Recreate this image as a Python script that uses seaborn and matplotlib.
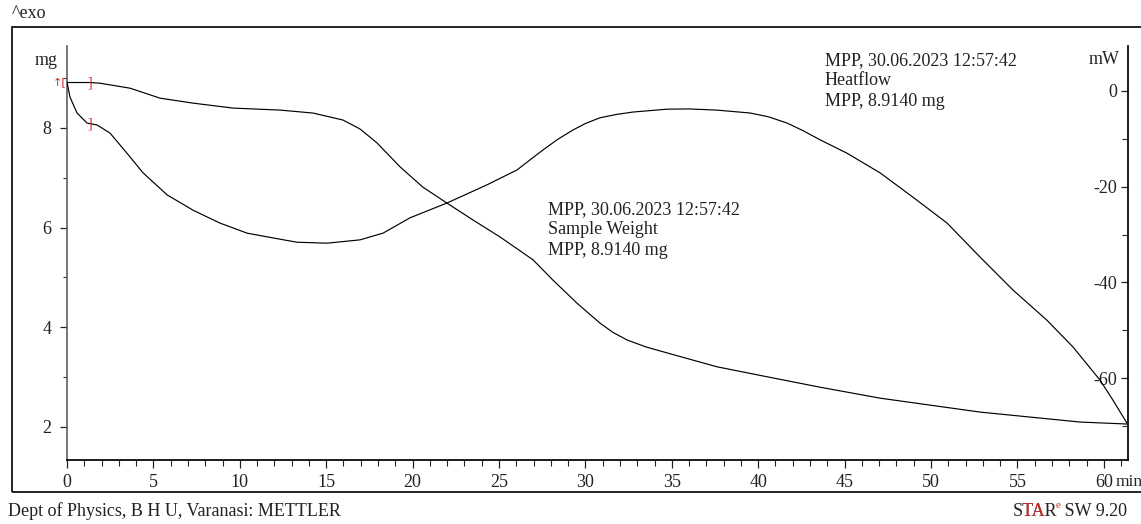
import matplotlib
matplotlib.use("Agg")
import matplotlib.pyplot as plt
import numpy as np
import pandas as pd
import seaborn as sns
from matplotlib.patches import Rectangle
from matplotlib.ticker import MultipleLocator
from matplotlib.transforms import Bbox

# sample weight (TGA)
weight_time = [0.0, 1.33, 1.91, 3.65, 5.38, 7.29, 9.61, 12.33, 14.24, 15.97, 16.96,
               17.94, 19.27, 20.6, 21.99, 23.5, 25.06, 26.97, 28.13, 29.51, 30.84,
               31.6, 32.41, 33.5, 34.72, 37.62, 40.51, 43.58, 47.05, 52.84, 58.62, 61.34]
weight_mg = [8.914, 8.914, 8.90, 8.80, 8.60, 8.50, 8.40, 8.36, 8.30, 8.16, 7.98,
             7.70, 7.22, 6.81, 6.49, 6.15, 5.81, 5.35, 4.94, 4.48, 4.08,
             3.89, 3.74, 3.60, 3.48, 3.20, 3.00, 2.79, 2.57, 2.29, 2.09, 2.05]

# heat flow (DSC)
heat_time = [0.0, 0.17, 0.58, 1.16, 1.74, 2.49, 3.47, 4.40, 5.79, 7.29, 8.85, 10.42,
             11.92, 13.31, 15.05, 16.96, 18.29, 19.85, 21.99, 24.31, 26.04, 27.55,
             28.4, 29.28, 30.0, 30.84, 31.8, 32.75, 34.72, 36.0, 37.62, 39.53, 40.6,
             41.67, 42.6, 43.58, 45.14, 47.05, 48.96, 50.93, 52.84, 54.75, 56.71,
             58.22, 59.78, 60.53, 61.34]
heat_mw = [1.9, -1.25, -4.6, -6.7, -7.1, -8.8, -13.0, -17.1, -21.7, -24.9, -27.6, -29.7,
           -30.7, -31.6, -31.8, -31.1, -29.7, -26.5, -23.4, -19.6, -16.5, -12.3,
           -10.1, -8.15, -6.8, -5.6, -4.9, -4.4, -3.8, -3.75, -4.0, -4.6, -5.4,
           -6.7, -8.3, -10.2, -13.0, -17.1, -22.2, -27.6, -34.7, -41.6, -47.9,
           -53.5, -60.4, -64.6, -69.4]

x_ticks = list(range(0, 65, 5))
mg_ticks = [2, 4, 6, 8]
mw_ticks = [0, -20, -40, -60]
limit_time = 1.33

SERIF = ["Liberation Serif", "DejaVu Serif"]
INK = "#222222"
RED = "#d62728"
FS = 13


def main():
    sns.set_theme(style="ticks")
    plt.rcParams["font.family"] = SERIF
    plt.rcParams["font.size"] = FS
    plt.rcParams["axes.unicode_minus"] = False

    weight = pd.DataFrame({"t": weight_time, "mg": weight_mg})
    heat = pd.DataFrame({"t": heat_time, "mw": heat_mw})

    fig = plt.figure(figsize=(11.41, 5.24), dpi=100)
    fig.patches.append(Rectangle((12 / 1141, 1 - 492 / 524), 1.05, (492 - 27) / 524,
                                 transform=fig.transFigure, fill=False,
                                 edgecolor="black", linewidth=1.2))
    ax = fig.add_axes([67 / 1141, 1 - 460 / 524, (1128 - 67) / 1141, 414 / 524])
    ax2 = ax.twinx()

    sns.lineplot(data=weight, x="t", y="mg", ax=ax, color="black", linewidth=0.85,
                 estimator=None, sort=False)
    sns.lineplot(data=heat, x="t", y="mw", ax=ax2, color="black", linewidth=0.85,
                 estimator=None, sort=False)

    ax.set_xlim(0, 61.4)
    ax.set_ylim(1.327, 9.648)
    ax2.set_ylim(-77.1, 9.4)

    for a in (ax, ax2):
        a.set_xlabel("")
        a.set_ylabel("")
        a.spines["top"].set_visible(False)
        a.patch.set_visible(False)
    ax.spines["right"].set_visible(False)
    ax2.spines["left"].set_visible(False)
    ax2.spines["bottom"].set_visible(False)
    ax.spines["left"].set_color("#666666")
    ax.spines["bottom"].set_color("black")
    ax2.spines["right"].set_color("black")

    ax.set_xticks(x_ticks)
    ax.xaxis.set_minor_locator(MultipleLocator(1))
    ax.set_yticks(mg_ticks)
    ax.yaxis.set_minor_locator(MultipleLocator(1))
    ax.tick_params(axis="x", which="major", direction="out", length=6, width=0.9,
                   pad=4, labelsize=FS, colors=INK)
    ax.tick_params(axis="x", which="minor", direction="out", length=4, width=0.8)
    ax.tick_params(axis="y", which="major", direction="out", length=5, width=0.9,
                   pad=6, labelsize=FS, colors=INK)
    ax.tick_params(axis="y", which="minor", direction="out", length=3, width=0.8)

    ax2.set_yticks(mw_ticks)
    ax2.yaxis.set_minor_locator(MultipleLocator(10))
    ax2.tick_params(axis="y", which="major", direction="in", length=5, width=0.9,
                    pad=-8, labelsize=FS, colors=INK)
    ax2.tick_params(axis="y", which="minor", direction="in", length=4, width=0.8)
    for lab in ax2.get_yticklabels():
        lab.set_horizontalalignment("right")

    # units
    ax.annotate("min", xy=(0.9887, 0), xycoords="axes fraction", xytext=(0, -10),
                textcoords="offset points", ha="left", va="top", fontsize=12.5, color=INK)
    ax.text(-0.009, 0.965, "mg", transform=ax.transAxes, ha="right", va="center",
            fontsize=FS, color=INK)
    ax.text(0.992, 0.968, "mW", transform=ax.transAxes, ha="right", va="center",
            fontsize=FS, color=INK)

    # evaluation limits
    w_lim = np.interp(limit_time, weight_time, weight_mg)
    h_lim = np.interp(limit_time, heat_time, heat_mw)
    ax.text(0, weight_mg[0], "↑[", color=RED, fontsize=8, ha="right", va="center",
            family=["DejaVu Sans"])
    ax.text(limit_time, w_lim, "]", color=RED, fontsize=10, ha="center", va="center")
    ax2.text(limit_time, h_lim, "]", color=RED, fontsize=10, ha="center", va="center")

    ax.text(0.4533, 0.625, "MPP, 30.06.2023 12:57:42\nSample Weight\nMPP, 8.9140 mg",
            transform=ax.transAxes, ha="left", va="top", fontsize=FS,
            linespacing=1.25, color=INK)
    ax.text(0.7144, 0.985, "MPP, 30.06.2023 12:57:42\nHeatflow\nMPP, 8.9140 mg",
            transform=ax.transAxes, ha="left", va="top", fontsize=FS,
            linespacing=1.25, color=INK)

    fig.text(12 / 1141, 1 - 14 / 524, "^exo", ha="left", va="center", fontsize=FS,
             color=INK)
    fig.text(8 / 1141, 1 - 511 / 524, "Dept of Physics, B H U, Varanasi: METTLER",
             ha="left", va="center", fontsize=FS, color=INK)

    # STARe SW 9.20 footer; "TA" and the superscript e are red
    r = fig.canvas.get_renderer()
    W = fig.bbox.width
    y_foot = 1 - 511 / 524
    tail = fig.text(1127 / 1141, y_foot, " SW 9.20", ha="right", va="center",
                    fontsize=FS, color=INK)
    x = tail.get_window_extent(r).x0
    sup = fig.text(x / W, 1 - 506 / 524, "e", ha="right", va="center",
                   fontsize=8, color=RED)
    x = sup.get_window_extent(r).x0 + 2.5
    star = fig.text(x / W, y_foot, "STAR", ha="right", va="center", fontsize=FS,
                    color=INK)
    sb = star.get_window_extent(r)
    s_only = fig.text(sb.x0 / W, y_foot, "S", ha="left", va="center", fontsize=FS)
    r_only = fig.text(sb.x1 / W, y_foot, "R", ha="right", va="center", fontsize=FS)
    clip_x0 = s_only.get_window_extent(r).x1
    clip_x1 = r_only.get_window_extent(r).x0
    s_only.remove()
    r_only.remove()
    red = fig.text(x / W, y_foot, "STAR", ha="right", va="center", fontsize=FS,
                   color=RED)
    red.set_clip_box(Bbox([[clip_x0, sb.y0 - 5], [clip_x1, sb.y1 + 5]]))
    red.set_clip_on(True)

    fig.savefig("out.png", dpi=100)


if __name__ == "__main__":
    main()
